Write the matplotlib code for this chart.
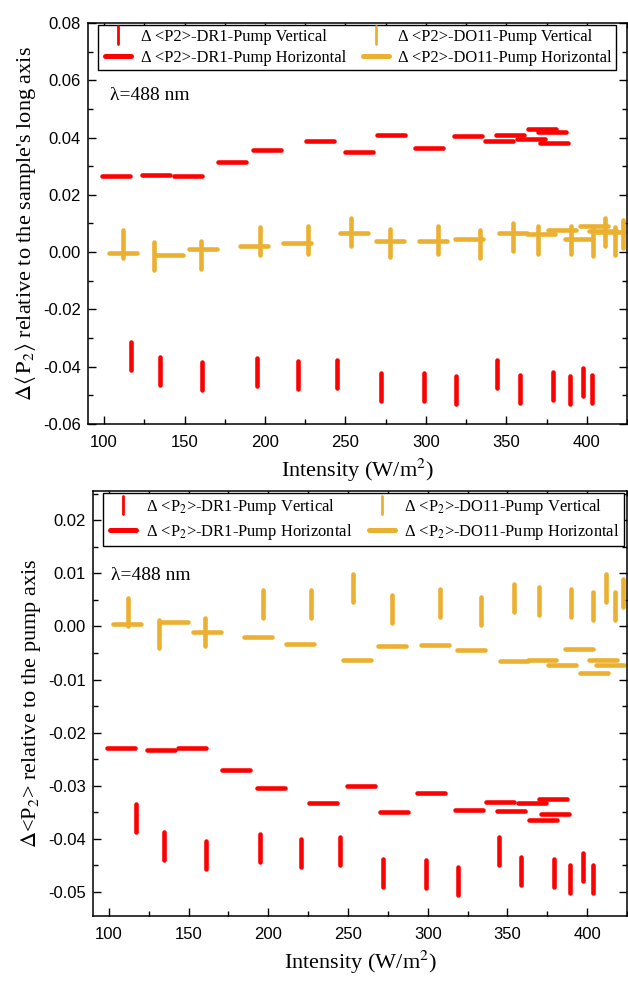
import matplotlib
matplotlib.use("Agg")
import matplotlib.pyplot as plt
from matplotlib.markers import MarkerStyle
from matplotlib.lines import Line2D
from matplotlib.ticker import MultipleLocator, FuncFormatter

# ---------------- data ----------------
x_v_dr1 = [117, 134.5, 161, 195, 220.5, 245, 272, 299, 319, 344.5, 358.5, 379, 389.5, 397.5, 403.5]
top_v_dr1 = [-0.0362, -0.0416, -0.0433, -0.0420, -0.0429, -0.0426, -0.0470, -0.0470, -0.0482,
             -0.0426, -0.0477, -0.0468, -0.0480, -0.0455, -0.0478]
bot_v_dr1 = [-0.0360, -0.0413, -0.0430, -0.0417, -0.0426, -0.0423, -0.0465, -0.0466, -0.0479,
             -0.0423, -0.0461, -0.0464, -0.0476, -0.0453, -0.0475]

x_v_do11 = [112, 131.2, 160, 196.7, 226.5, 253.3, 277.5, 307.5, 333.4, 354.4, 369.5, 390,
            403.6, 411.6, 417.3, 422.3]
top_v_do11 = [0.0027, -0.0014, -0.0010, 0.0039, 0.0042, 0.0070, 0.0032, 0.0042, 0.0030, 0.0052,
              0.0044, 0.0042, 0.0036, 0.0070, 0.0039, 0.0063]
bot_v_do11 = [0.0027, -0.0014, -0.0010, 0.0042, 0.0043, 0.0073, 0.0033, 0.0045, 0.0030, 0.0054,
              0.0047, 0.0044, 0.0039, 0.0072, 0.0039, 0.0063]

x_h_dr1 = [107.4, 132.5, 152, 179.7, 201.4, 234.3, 258.4, 278.6, 302.2, 326, 345.5, 352.5,
           365.6, 372, 378.4, 379.6]
top_h_dr1 = [0.0264, 0.0269, 0.0265, 0.0313, 0.0355, 0.0387, 0.0350, 0.0409, 0.0365, 0.0406,
             0.0388, 0.0409, 0.0394, 0.0429, 0.0420, 0.0381]
bot_h_dr1 = [-0.0229, -0.0233, -0.0228, -0.0270, -0.0305, -0.0333, -0.0301, -0.0349, -0.0314,
             -0.0345, -0.0330, -0.0347, -0.0333, -0.0364, -0.0324, -0.0354]

x_h_do11 = [111.6, 140.6, 161.7, 193.2, 220, 255.5, 277.8, 304.3, 327, 354.3, 371.8, 384.4,
            395, 404.6, 410, 414.5]
top_h_do11 = [-0.0002, -0.0009, 0.0011, 0.0021, 0.0031, 0.0065, 0.0038, 0.0038, 0.0046, 0.0066,
              0.0063, 0.0077, 0.0046, 0.0092, 0.0074, 0.0069]
bot_h_do11 = [0.0004, 0.0008, -0.0011, -0.0020, -0.0033, -0.0064, -0.0037, -0.0035, -0.0045,
              -0.0065, -0.0063, -0.0073, -0.0043, -0.0088, -0.0064, -0.0072]

top_labels = ["Δ <P2>-DR1-Pump Vertical", "Δ <P2>-DR1-Pump Horizontal",
              "Δ <P2>-DO11-Pump Vertical", "Δ <P2>-DO11-Pump Horizontal"]
bot_labels = ["Δ <P$_2$>-DR1-Pump Vertical", "Δ <P$_2$>-DR1-Pump Horizontal",
              "Δ <P$_2$>-DO11-Pump Vertical", "Δ <P$_2$>-DO11-Pump Horizontal"]

RED = "#FF0000"
ORANGE = "#ECB030"
SERIF = "Liberation Serif"
SANS = "Liberation Sans"

plt.rcParams["mathtext.fontset"] = "stix"
plt.rcParams["font.family"] = [SERIF, "DejaVu Serif"]

fig = plt.figure(figsize=(6.28, 9.81), dpi=100)
ax1 = fig.add_axes([0.1401, 0.5678, 0.8583, 0.4088])
ax2 = fig.add_axes([0.1481, 0.0663, 0.8503, 0.4332])

MS = 19.5
MEW = 3.3
vmark = MarkerStyle("|", capstyle="round")
hmark = MarkerStyle("_", capstyle="round")


def yfmt(v, pos):
    s = "%.2f" % v
    if s == "-0.00":
        s = "0.00"
    return s


def draw(ax, vdr1, vdo11, hdr1, hdo11, labels, ylim, ymaj, ymin, ylabel, lam_xy, leg_fs):
    ax.plot(x_v_dr1, vdr1, linestyle="None", marker=vmark, ms=MS, mew=MEW, color=RED)
    ax.plot(x_v_do11, vdo11, linestyle="None", marker=vmark, ms=MS, mew=MEW, color=ORANGE)
    ax.plot(x_h_dr1, hdr1, linestyle="None", marker=hmark, ms=MS, mew=MEW, color=RED)
    ax.plot(x_h_do11, hdo11, linestyle="None", marker=hmark, ms=MS, mew=MEW, color=ORANGE)

    ax.set_xlim(90, 425)
    ax.set_ylim(*ylim)
    ax.xaxis.set_major_locator(MultipleLocator(50))
    ax.xaxis.set_minor_locator(MultipleLocator(25))
    ax.yaxis.set_major_locator(MultipleLocator(ymaj))
    ax.yaxis.set_minor_locator(MultipleLocator(ymin))
    ax.yaxis.set_major_formatter(FuncFormatter(yfmt))
    ax.tick_params(which="both", direction="in", top=True, right=True, width=1.0)
    ax.tick_params(which="major", length=6)
    ax.tick_params(which="minor", length=3.5)
    ax.tick_params(axis="x", which="major", pad=8)
    ax.tick_params(axis="y", which="major", pad=5)
    for lab in ax.get_xticklabels() + ax.get_yticklabels():
        lab.set_fontfamily(SANS)
        lab.set_fontsize(12)
    for sp in ax.spines.values():
        sp.set_linewidth(1.1)

    ax.set_xlabel("Intensity (W/m$^2$)", fontsize=16, labelpad=5)
    ax.set_ylabel(ylabel, fontsize=16, labelpad=4)
    ax.text(lam_xy[0], lam_xy[1], "λ=488 nm", transform=ax.transAxes, fontsize=14,
            va="center", ha="left")

    handles = [
        Line2D([], [], linestyle="None", marker=vmark, ms=13, mew=2.0, color=RED),
        Line2D([], [], linestyle="None", marker=hmark, ms=19, mew=3.6, color=RED),
        Line2D([], [], linestyle="None", marker=vmark, ms=13, mew=2.0, color=ORANGE),
        Line2D([], [], linestyle="None", marker=hmark, ms=19, mew=3.6, color=ORANGE),
    ]
    leg = ax.legend(handles, labels, ncol=2, loc="upper left", bbox_to_anchor=(0.018, 0.995),
                    fontsize=leg_fs, frameon=True, fancybox=False, edgecolor="black",
                    framealpha=1, borderpad=0.25, labelspacing=0.3, handlelength=2.0,
                    handletextpad=0.35, columnspacing=0.8, borderaxespad=0.0,
                    numpoints=1)
    leg.get_frame().set_linewidth(1.0)


draw(ax1, top_v_dr1, top_v_do11, top_h_dr1, top_h_do11, top_labels,
     (-0.06, 0.08), 0.02, 0.01,
     r"$\Delta\langle\,\mathrm{P}_2\rangle$ relative to the sample's long axis", (0.041, 0.82),
     11.9)
draw(ax2, bot_v_dr1, bot_v_do11, bot_h_dr1, bot_h_do11, bot_labels,
     (-0.0545, 0.0255), 0.01, 0.005,
     r"$\Delta$<P$_2$> relative to the pump axis", (0.033, 0.80), 11.9)

fig.savefig("out.png", dpi=100)
